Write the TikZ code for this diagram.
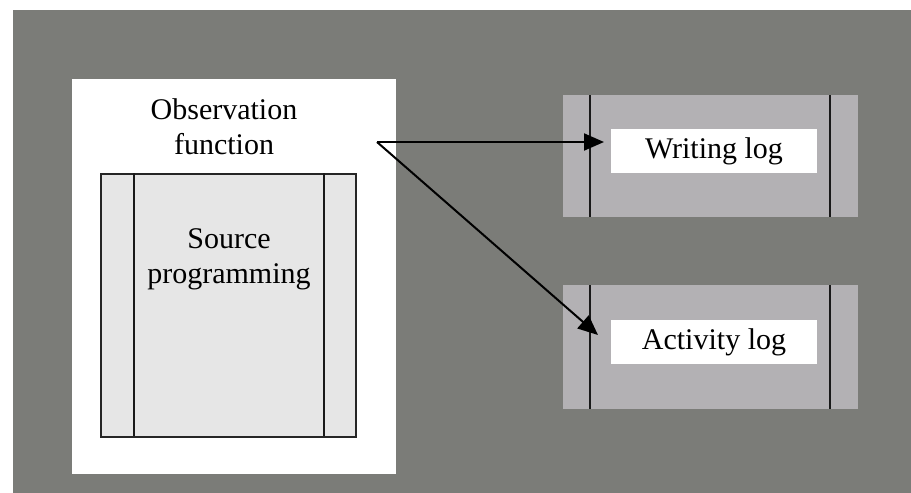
\documentclass[tikz,border=0pt]{standalone}
\usepackage{fontspec}
\setmainfont{Liberation Serif}
\usetikzlibrary{arrows.meta}
\definecolor{bggray}{HTML}{7B7C78}
\definecolor{srcfill}{HTML}{E6E6E6}
\definecolor{logfill}{HTML}{B3B1B4}
\tikzset{
  panel/.style={fill=white, draw=none, inner sep=0pt, anchor=north west},
  srcbox/.style={fill=srcfill, draw=black!85, line width=2.2pt, inner sep=0pt, anchor=north west},
  logbox/.style={fill=logfill, draw=none, inner sep=0pt, anchor=north west},
  loglabel/.style={fill=white, draw=none, inner sep=0pt, minimum width=206pt, minimum height=44pt, font=\fontsize{30}{34}\selectfont},
  bar/.style={line width=2.2pt, black!90},
  txt/.style={align=center, font=\fontsize{30}{35}\selectfont, inner sep=0pt},
  flow/.style={line width=2pt, -{Triangle[length=20pt, width=17pt]}}
}
\begin{document}
\begin{tikzpicture}[x=1pt, y=-1pt]
  \useasboundingbox (0,0) rectangle (911,493);
  % backdrop
  \fill[bggray] (13,10) rectangle (911,493);
  % white panel holding the observation function
  \node[panel, minimum width=324pt, minimum height=395pt] (panel) at (72,79) {};
  \node[txt] (obs) at (224,127) {Observation\\function};
  % source programming box with its two inner bars
  \node[srcbox, minimum width=255pt, minimum height=263pt] (src) at (100,173) {};
  \draw[bar] (134,173) -- (134,436);
  \draw[bar] (324,173) -- (324,436);
  \node[txt] (srctxt) at (229,259) {Source\\programming};
  % writing log
  \node[logbox, minimum width=295pt, minimum height=122pt] (wbox) at (563,95) {};
  \draw[bar] (wbox.north west) ++(27,0) coordinate (w1) -- (w1 |- wbox.south);
  \draw[bar] (wbox.north west) ++(267,0) coordinate (w2) -- (w2 |- wbox.south);
  \node[loglabel] (wlog) at (714,151) {Writing log};
  % activity log
  \node[logbox, minimum width=295pt, minimum height=124pt] (abox) at (563,285) {};
  \draw[bar] (abox.north west) ++(27,0) coordinate (a1) -- (a1 |- abox.south);
  \draw[bar] (abox.north west) ++(267,0) coordinate (a2) -- (a2 |- abox.south);
  \node[loglabel] (alog) at (714,342) {Activity log};
  % connectors
  \coordinate (fork) at (377,142);
  \coordinate (wtip) at (604,142);
  \coordinate (atip) at (598,335);
  \draw[flow] (fork) -- (wtip);
  \draw[flow] (fork) -- (atip);
\end{tikzpicture}
\end{document}
